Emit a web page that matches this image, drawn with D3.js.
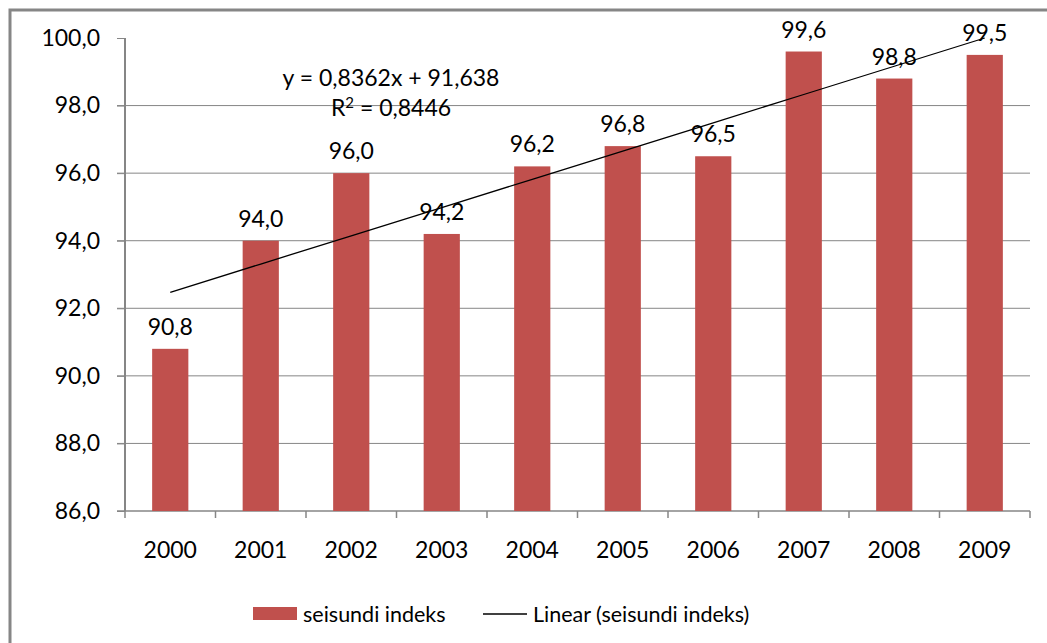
<!DOCTYPE html>
<html>
<head>
<meta charset="utf-8">
<script src="https://cdn.jsdelivr.net/npm/d3@7"></script>
<style>
  body { margin: 0; background: #fff; }
  svg text { font-family: Lato, "Open Sans", sans-serif; fill: #000; }
</style>
</head>
<body>
<div id="chart"></div>
<script>
// chart data
const years = ["2000", "2001", "2002", "2003", "2004", "2005", "2006", "2007", "2008", "2009"];
const indexValues = [90.8, 94.0, 96.0, 94.2, 96.2, 96.8, 96.5, 99.6, 98.8, 99.5];
const yTicks = [86, 88, 90, 92, 94, 96, 98, 100];
const trendSlope = 0.8362, trendIntercept = 91.638, trendR2 = 0.8446;

const W = 1047, H = 643;
const margin = { top: 38, right: 17, bottom: 132, left: 125 },
    width = 1030 - margin.left,
    height = 511 - margin.top;

const root = d3.select("#chart").append("svg")
    .attr("width", W)
    .attr("height", H);

// outer frame (cropped on the right and bottom)
root.append("rect")
    .attr("x", 10).attr("y", 10)
    .attr("width", 1080).attr("height", 700)
    .attr("fill", "none")
    .attr("stroke", "#868686")
    .attr("stroke-width", 3);

const svg = root.append("g")
    .attr("transform", `translate(${margin.left},${margin.top})`);

const x = d3.scaleBand()
    .domain(years)
    .range([0, width])
    .paddingInner(0.6)
    .paddingOuter(0.3);

const y = d3.scaleLinear()
    .domain([86, 100])
    .range([height, 0]);

const fmt = v => v.toFixed(1).replace(".", ",");

// gridlines (no line at the top value)
svg.append("g")
    .selectAll("line")
    .data(yTicks.filter(t => t > 86 && t < 100))
    .join("line")
    .attr("x1", -8).attr("x2", width)
    .attr("y1", d => y(d)).attr("y2", d => y(d))
    .attr("stroke", "#868686")
    .attr("stroke-width", 1);

// y axis
const yAxis = svg.append("g")
    .call(d3.axisLeft(y).tickValues(yTicks).tickFormat(fmt).tickSize(8).tickPadding(17));
yAxis.select(".domain").attr("stroke", "#868686").attr("stroke-width", 2).attr("d", `M0,0V${height}`);
yAxis.selectAll(".tick line").attr("stroke", "#868686");
yAxis.selectAll("text").style("font-size", "23px").attr("fill", "#000");

// x axis with ticks between categories
const xAxis = svg.append("g")
    .attr("transform", `translate(0,${height})`);
xAxis.append("line")
    .attr("x1", -8).attr("x2", width)
    .attr("stroke", "#868686").attr("stroke-width", 1.5);
xAxis.selectAll(".sep")
    .data(d3.range(years.length + 1))
    .join("line")
    .attr("class", "sep")
    .attr("x1", i => i * width / years.length)
    .attr("x2", i => i * width / years.length)
    .attr("y1", 0).attr("y2", 7)
    .attr("stroke", "#868686").attr("stroke-width", 1.5);
xAxis.selectAll(".lbl")
    .data(years)
    .join("text")
    .attr("class", "lbl")
    .attr("x", d => x(d) + x.bandwidth() / 2)
    .attr("y", 47)
    .attr("text-anchor", "middle")
    .style("font-size", "23px")
    .text(d => d);

// bars
svg.selectAll(".bar")
    .data(years)
    .join("rect")
    .attr("class", "bar")
    .attr("x", d => x(d))
    .attr("y", (d, i) => y(indexValues[i]))
    .attr("width", x.bandwidth())
    .attr("height", (d, i) => height - y(indexValues[i]))
    .attr("fill", "#C0504D");

// value labels
svg.selectAll(".val")
    .data(years)
    .join("text")
    .attr("class", "val")
    .attr("x", d => x(d) + x.bandwidth() / 2)
    .attr("y", (d, i) => y(indexValues[i]) - 14)
    .attr("text-anchor", "middle")
    .style("font-size", "23px")
    .text((d, i) => fmt(indexValues[i]));

// linear trendline
const trend = years.map((d, i) => [x(d) + x.bandwidth() / 2, y(trendSlope * (i + 1) + trendIntercept)]);
svg.append("path")
    .attr("d", d3.line()(trend))
    .attr("fill", "none")
    .attr("stroke", "#000")
    .attr("stroke-width", 1.3);

// equation
const eq = svg.append("text")
    .attr("x", 266)
    .style("font-size", "23px")
    .attr("text-anchor", "middle");
eq.append("tspan").attr("x", 266).attr("y", 48)
    .text(`y = ${String(trendSlope).replace(".", ",")}x + ${String(trendIntercept).replace(".", ",")}`);
const r2 = eq.append("tspan").attr("x", 266).attr("y", 78);
r2.append("tspan").text("R");
r2.append("tspan").attr("dy", -8).style("font-size", "15px").text("2");
r2.append("tspan").attr("dy", 8).text(` = ${String(trendR2).replace(".", ",")}`);

// legend
const legend = root.append("g").attr("transform", "translate(253,614)");
legend.append("rect")
    .attr("x", 0).attr("y", -7)
    .attr("width", 44).attr("height", 13)
    .attr("fill", "#C0504D");
legend.append("text")
    .attr("x", 50).attr("y", 8)
    .style("font-size", "21.5px")
    .text("seisundi indeks");
legend.append("line")
    .attr("x1", 230).attr("x2", 274)
    .attr("y1", 0).attr("y2", 0)
    .attr("stroke", "#000").attr("stroke-width", 1.5);
legend.append("text")
    .attr("x", 280).attr("y", 8)
    .style("font-size", "21.5px")
    .text("Linear (seisundi indeks)");
</script>
</body>
</html>
